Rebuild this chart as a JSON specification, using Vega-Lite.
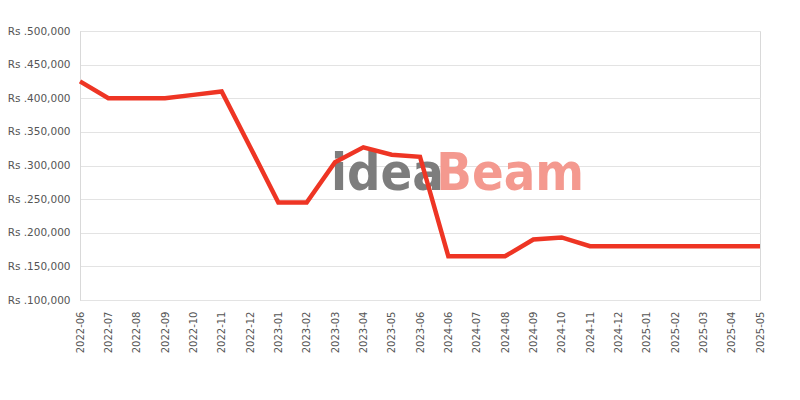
{
  "$schema": "https://vega.github.io/schema/vega-lite/v6.json",
  "width": 680,
  "height": 269,
  "autosize": {"type": "none"},
  "padding": {"left": 80, "top": 31, "right": 40, "bottom": 100},
  "background": "white",
  "config": {
    "view": {"stroke": "#d9d9d9", "strokeWidth": 1},
    "font": "DejaVu Sans",
    "axisX": {
      "title": null,
      "labelAngle": -90,
      "labelAlign": "right",
      "labelBaseline": "middle",
      "labelOverlap": false,
      "labelPadding": 11,
      "labelFontSize": 10,
      "labelColor": "#555555",
      "ticks": false,
      "domain": false,
      "grid": false
    },
    "axisY": {
      "title": null,
      "labelFontSize": 10.5,
      "labelColor": "#555555",
      "labelPadding": 10,
      "ticks": false,
      "domain": true,
      "domainColor": "#d9d9d9",
      "grid": true,
      "gridColor": "#e3e3e3"
    }
  },
  "data": {
    "values": [
      {"month": "2022-06", "price": 425000},
      {"month": "2022-07", "price": 400000},
      {"month": "2022-08", "price": 400000},
      {"month": "2022-09", "price": 400000},
      {"month": "2022-10", "price": 405000},
      {"month": "2022-11", "price": 410000},
      {"month": "2022-12", "price": 328000},
      {"month": "2023-01", "price": 245000},
      {"month": "2023-02", "price": 245000},
      {"month": "2023-03", "price": 305000},
      {"month": "2023-04", "price": 327000},
      {"month": "2023-05", "price": 316000},
      {"month": "2023-06", "price": 313000},
      {"month": "2024-06", "price": 165000},
      {"month": "2024-07", "price": 165000},
      {"month": "2024-08", "price": 165000},
      {"month": "2024-09", "price": 190000},
      {"month": "2024-10", "price": 193000},
      {"month": "2024-11", "price": 180000},
      {"month": "2024-12", "price": 180000},
      {"month": "2025-01", "price": 180000},
      {"month": "2025-02", "price": 180000},
      {"month": "2025-03", "price": 180000},
      {"month": "2025-04", "price": 180000},
      {"month": "2025-05", "price": 180000}
    ]
  },
  "layer": [
    {
      "transform": [{"filter": "datum.month === '2023-03'"}],
      "mark": {"type": "text", "text": "idea", "align": "left", "baseline": "alphabetic", "fontSize": 52, "fontWeight": "bold", "font": "DejaVu Sans Condensed", "color": "#7d7d7d", "dx": -4},
      "encoding": {
        "x": {"field": "month", "type": "ordinal"},
        "y": {"datum": 263600, "type": "quantitative", "axis": {"values": [100000, 150000, 200000, 250000, 300000, 350000, 400000, 450000, 500000], "labelExpr": "'Rs .' + format(datum.value, ',')"}}
      }
    },
    {
      "transform": [{"filter": "datum.month === '2024-06'"}],
      "mark": {"type": "text", "text": "Beam", "align": "left", "baseline": "alphabetic", "fontSize": 52, "fontWeight": "bold", "font": "DejaVu Sans Condensed", "color": "#f4998f", "dx": -12},
      "encoding": {
        "x": {"field": "month", "type": "ordinal"},
        "y": {"datum": 263600, "type": "quantitative", "axis": {"values": [100000, 150000, 200000, 250000, 300000, 350000, 400000, 450000, 500000], "labelExpr": "'Rs .' + format(datum.value, ',')"}}
      }
    },
    {
      "mark": {"type": "line", "color": "#ee3524", "strokeWidth": 4.5, "strokeJoin": "miter"},
      "encoding": {
        "x": {
          "field": "month",
          "type": "ordinal",
          "scale": {
            "type": "point",
            "padding": 0,
            "domain": ["2022-06", "2022-07", "2022-08", "2022-09", "2022-10", "2022-11", "2022-12", "2023-01", "2023-02", "2023-03", "2023-04", "2023-05", "2023-06", "2024-06", "2024-07", "2024-08", "2024-09", "2024-10", "2024-11", "2024-12", "2025-01", "2025-02", "2025-03", "2025-04", "2025-05"]
          }
        },
        "y": {
          "field": "price",
          "type": "quantitative",
          "scale": {"domain": [100000, 500000], "nice": false, "zero": false},
          "axis": {"values": [100000, 150000, 200000, 250000, 300000, 350000, 400000, 450000, 500000], "labelExpr": "'Rs .' + format(datum.value, ',')"}
        }
      }
    }
  ]
}
